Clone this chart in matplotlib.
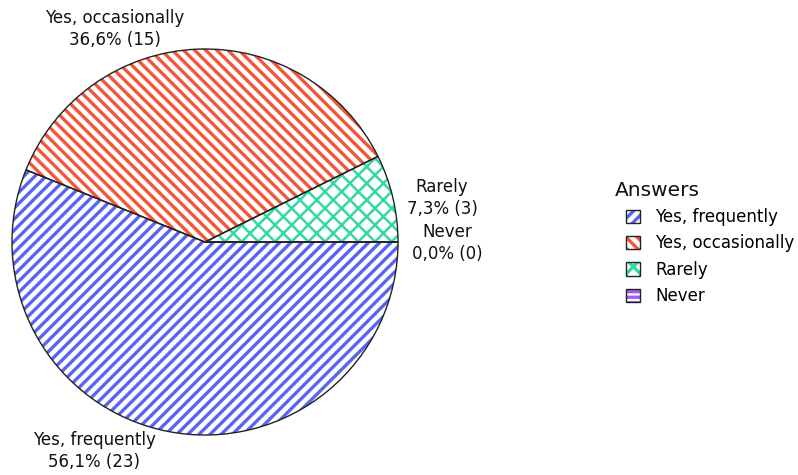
import matplotlib.pyplot as plt
from matplotlib.patches import Patch

answers = ["Yes, frequently", "Yes, occasionally", "Rarely", "Never"]
counts = [23, 15, 3, 0]
colors = ["#5a64f2", "#f2573c", "#33d8a2", "#a45cf0"]
hatches = ["///", "\\\\\\", "xx", "---"]
hatch_widths = [2.4, 2.4, 1.8, 2.4]

plt.rcParams["font.family"] = "DejaVu Sans"
plt.rcParams["hatch.linewidth"] = 2.4

W, H = 798, 475
fig = plt.figure(figsize=(W / 100, H / 100), dpi=100)
ax = fig.add_axes([0, 0, 1, 1])

center = (205, H - 242)
radius = 193


def style(patch, c, h, lw):
    patch.set_edgecolor(c)
    patch.set_hatch(h)
    if hasattr(patch, "set_hatch_linewidth"):
        patch.set_hatch_linewidth(lw)


# hatched fill, hatch drawn in the slice colour
wedges, _ = ax.pie(counts, center=center, radius=radius, startangle=0,
                   counterclock=False, frame=True,
                   wedgeprops=dict(facecolor="white", linewidth=0))
for w, c, h, lw in zip(wedges, colors, hatches, hatch_widths):
    style(w, c, h, lw)

# black outlines on top
ax.pie(counts, center=center, radius=radius, startangle=0,
       counterclock=False, frame=True,
       wedgeprops=dict(fill=False, edgecolor="#222222", linewidth=1.0))
ax.set_xlim(0, W)
ax.set_ylim(0, H)
ax.set_aspect("equal")
ax.axis("off")

total = sum(counts)
pct = [f"{100 * c / total:.1f}".replace(".", ",") + f"% ({c})" for c in counts]

label_pos = [(94, H - 451), (115, H - 29), (442, H - 198), (447, H - 243)]
for name, p, (x, y) in zip(answers, pct, label_pos):
    ax.text(x, y, f"{name}\n{p}", ha="center", va="center",
            fontsize=12, linespacing=1.32, color="#111111")

fig.text(615 / W, 1 - 190 / H, "Answers", ha="left", va="center",
         fontsize=14.5, color="#111111")

handles = []
for c, h, lw in zip(colors, hatches, hatch_widths):
    hp = Patch(facecolor="white", linewidth=0)
    style(hp, c, h, lw)
    handles.append((hp, Patch(fill=False, edgecolor="#222222", linewidth=1.0)))

fig.legend(handles, answers, loc="upper left",
           bbox_to_anchor=(626 / W, 1 - 208 / H),
           frameon=False, fontsize=12, borderpad=0, borderaxespad=0,
           handlelength=0.85, handleheight=0.85,
           handletextpad=0.9, labelspacing=0.5)

fig.savefig("out.png", dpi=100)
